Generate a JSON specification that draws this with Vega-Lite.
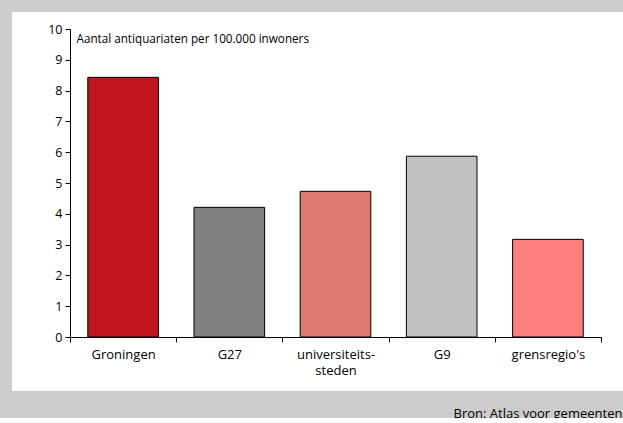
{
  "$schema": "https://vega.github.io/schema/vega-lite/v6.json",
  "autosize": {"type": "none"},
  "width": 611,
  "height": 379,
  "padding": {"left": 12, "top": 12, "right": 0, "bottom": 27},
  "background": "#cccccc",
  "config": {
    "view": {"fill": "white", "stroke": null},
    "font": "Open Sans",
    "axis": {
      "domainColor": "#000000",
      "tickColor": "#000000",
      "labelColor": "#000000",
      "titleColor": "#000000",
      "grid": false,
      "labelFont": "Open Sans",
      "titleFont": "Open Sans",
      "titleFontWeight": "normal"
    }
  },
  "data": {
    "values": [
      {"groep": "Groningen", "waarde": 8.43},
      {"groep": "G27", "waarde": 4.21},
      {"groep": "universiteits-steden", "waarde": 4.73},
      {"groep": "G9", "waarde": 5.87},
      {"groep": "grensregio's", "waarde": 3.17}
    ]
  },
  "mark": {"type": "bar", "stroke": "#000000", "strokeWidth": 1, "width": {"band": 0.665}},
  "encoding": {
    "x": {
      "field": "groep",
      "type": "nominal",
      "sort": null,
      "scale": {"range": [58, 589], "paddingInner": 0, "paddingOuter": 0},
      "axis": {
        "offset": -54,
        "ticks": true,
        "tickBand": "extent",
        "tickSize": 5,
        "tickWidth": 1,
        "labelAngle": 0,
        "labelFontSize": 13,
        "labelPadding": 6,
        "labelLineHeight": 16,
        "labelExpr": "datum.value == 'universiteits-steden' ? ['universiteits-', 'steden'] : datum.label",
        "title": "Bron: Atlas voor gemeenten",
        "titleFontSize": 13,
        "titleAlign": "left",
        "titleAnchor": null,
        "titleX": 441,
        "titleY": 76,
        "titleBaseline": "middle"
      }
    },
    "y": {
      "field": "waarde",
      "type": "quantitative",
      "scale": {"domain": [0, 10], "range": [325, 17], "nice": false},
      "axis": {
        "offset": -58,
        "values": [0, 1, 2, 3, 4, 5, 6, 7, 8, 9, 10],
        "tickSize": 5,
        "labelPadding": 3,
        "labelFontSize": 12.5,
        "title": "Aantal antiquariaten per 100.000 inwoners",
        "titleFontSize": 11.7,
        "titleAngle": 0,
        "titleAlign": "left",
        "titleAnchor": null,
        "titleX": 6,
        "titleY": 26,
        "titleBaseline": "middle"
      }
    },
    "color": {
      "field": "groep",
      "type": "nominal",
      "sort": null,
      "scale": {"range": ["#c1141f", "#808080", "#de7b70", "#c0c0c0", "#ff7f7f"]},
      "legend": null
    }
  }
}
